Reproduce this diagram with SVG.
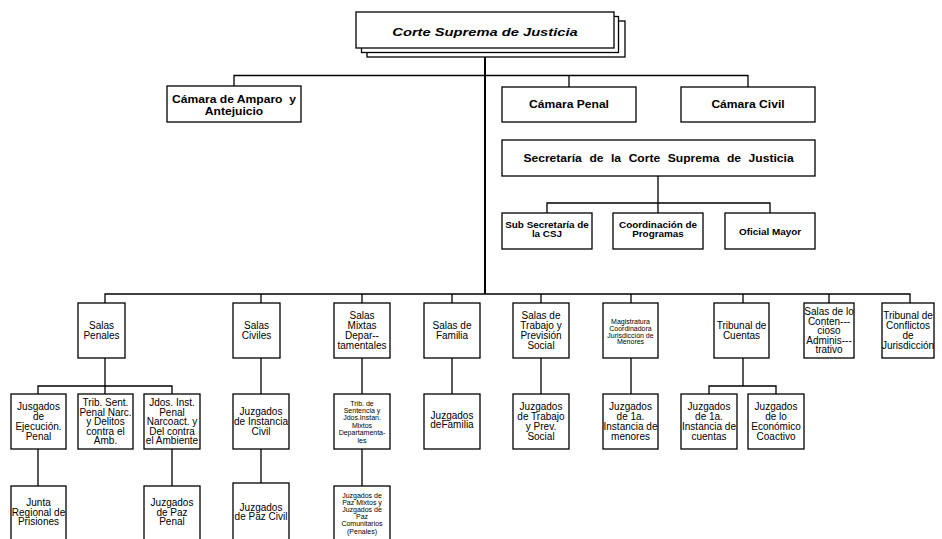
<svg xmlns="http://www.w3.org/2000/svg" width="942" height="539" viewBox="0 0 942 539">
<style>
.box{fill:#fff;stroke:#000;stroke-width:1.3}
text{font-family:"Liberation Sans",Arial,sans-serif;text-anchor:middle;fill:#000}
.t{font-size:10px}
.s{font-size:7px}
.b{font-weight:bold;font-size:11px}
.b3{font-weight:bold;font-size:9px}
.bi{font-weight:bold;font-style:italic;font-size:11.5px}
</style>
<rect width="942" height="539" fill="#fff"/>
<g id="connectors" fill="none" stroke="#000" stroke-width="1.3">
<path d="M485,48 V294" stroke-width="2"/>
<path d="M234,86 V75.5 H748 V87 M569,75.5 V87"/>
<path d="M658,176 V203 M547,213 V203 H770 V213 M658,203 V213"/>
<path d="M105,303 V294 H910 V303 M261,294 V303 M362,294 V303 M452,294 V303 M541,294 V303 M631,294 V303 M743,294 V303 M829,294 V303"/>
<path d="M105,358 V386 M38,394 V386 H172 V394 M105,386 V394"/>
<path d="M261,358 V394 M362,358 V394 M452,358 V394 M541,358 V394 M631,358 V394"/>
<path d="M743,358 V386 M709,394 V386 H776 V394"/>
<path d="M38,449 V486 M172,449 V486 M261,449 V483 M362,449 V486"/>
</g>
<g id="corte-suprema">
<rect class="box" x="367" y="21" width="258" height="36"/>
<rect class="box" x="361.5" y="16.5" width="257" height="36"/>
<rect class="box" x="356" y="12" width="258" height="36"/>
<text class="bi" transform="translate(485,35.5) scale(1.28,1)">Corte Suprema de Justicia</text>
</g>
<g id="camara-amparo">
<rect class="box" x="167" y="86" width="134" height="36"/>
<text class="b" xml:space="preserve" transform="translate(234,103) scale(1.1,1)">Cámara de Amparo  y</text>
<text class="b" transform="translate(234,114.5) scale(1.1,1)">Antejuicio</text>
</g>
<g id="camara-penal">
<rect class="box" x="502" y="87" width="134" height="35"/>
<text class="b" transform="translate(569,108) scale(1.1,1)">Cámara Penal</text>
</g>
<g id="camara-civil">
<rect class="box" x="681" y="87" width="134" height="35"/>
<text class="b" transform="translate(748,108) scale(1.1,1)">Cámara Civil</text>
</g>
<g id="secretaria">
<rect class="box" x="502" y="140" width="313" height="36"/>
<text class="b" style="word-spacing:3.8px" transform="translate(658.5,162) scale(1.1,1)">Secretaría de la Corte Suprema de Justicia</text>
</g>
<g id="sub-secretaria">
<rect class="box" x="502" y="213" width="90" height="36"/>
<text class="b3" transform="translate(547,227.5) scale(1.1,1)">Sub Secretaría de</text>
<text class="b3" transform="translate(547,237) scale(1.1,1)">la CSJ</text>
</g>
<g id="coordinacion">
<rect class="box" x="613" y="213" width="90" height="36"/>
<text class="b3" transform="translate(658,227.5) scale(1.1,1)">Coordinación de</text>
<text class="b3" transform="translate(658,237) scale(1.1,1)">Programas</text>
</g>
<g id="oficial-mayor">
<rect class="box" x="725" y="213" width="90" height="36"/>
<text class="b3" transform="translate(770,235) scale(1.1,1)">Oficial Mayor</text>
</g>
<g id="salas-penales">
<rect class="box" x="78" y="303" width="47" height="55"/>
<text class="t" x="101.5" y="329">Salas</text>
<text class="t" x="101.5" y="339">Penales</text>
</g>
<g id="salas-civiles">
<rect class="box" x="233" y="303" width="47" height="55"/>
<text class="t" x="256.5" y="329">Salas</text>
<text class="t" x="256.5" y="339">Civiles</text>
</g>
<g id="salas-mixtas">
<rect class="box" x="334" y="303" width="56" height="55"/>
<text class="t" x="362" y="319">Salas</text>
<text class="t" x="362" y="329">Mixtas</text>
<text class="t" x="362" y="339">Depar--</text>
<text class="t" x="362" y="349">tamentales</text>
</g>
<g id="salas-familia">
<rect class="box" x="424" y="303" width="56" height="55"/>
<text class="t" x="452" y="329">Salas de</text>
<text class="t" x="452" y="339">Familia</text>
</g>
<g id="salas-trabajo">
<rect class="box" x="513" y="303" width="56" height="55"/>
<text class="t" x="541" y="319">Salas de</text>
<text class="t" x="541" y="329">Trabajo y</text>
<text class="t" x="541" y="339">Previsión</text>
<text class="t" x="541" y="349">Social</text>
</g>
<g id="magistratura">
<rect class="box" x="603" y="303" width="55" height="55"/>
<text class="s" x="630.5" y="324.2">Magistratura</text>
<text class="s" x="630.5" y="330.9">Coordinadora</text>
<text class="s" x="630.5" y="337.6">Jurisdicción de</text>
<text class="s" x="630.5" y="344.3">Menores</text>
</g>
<g id="tribunal-cuentas">
<rect class="box" x="714" y="303" width="55" height="55"/>
<text class="t" x="741.5" y="329">Tribunal de</text>
<text class="t" x="741.5" y="339">Cuentas</text>
</g>
<g id="salas-contencioso">
<rect class="box" x="804" y="303" width="50" height="55"/>
<text class="t" x="829" y="315">Salas de lo</text>
<text class="t" x="829" y="324.5">Conten---</text>
<text class="t" x="829" y="334">cioso</text>
<text class="t" x="829" y="343.5">Adminis---</text>
<text class="t" x="829" y="353">trativo</text>
</g>
<g id="tribunal-conflictos">
<rect class="box" x="882" y="303" width="52" height="55"/>
<text class="t" x="908" y="319">Tribunal de</text>
<text class="t" x="908" y="329">Conflictos</text>
<text class="t" x="908" y="339">de</text>
<text class="t" x="908" y="349">Jurisdicción</text>
</g>
<g id="jusgados-ejecucion">
<rect class="box" x="11" y="394" width="55" height="55"/>
<text class="t" x="38.5" y="410">Jusgados</text>
<text class="t" x="38.5" y="420">de</text>
<text class="t" x="38.5" y="430">Ejecución.</text>
<text class="t" x="38.5" y="440">Penal</text>
</g>
<g id="trib-sent-penal">
<rect class="box" x="78" y="394" width="55" height="55"/>
<text class="t" x="105.5" y="406">Trib. Sent.</text>
<text class="t" x="105.5" y="415.5">Penal Narc.</text>
<text class="t" x="105.5" y="425">y Delitos</text>
<text class="t" x="105.5" y="434.5">contra el</text>
<text class="t" x="105.5" y="444">Amb.</text>
</g>
<g id="jdos-inst-penal">
<rect class="box" x="144" y="394" width="56" height="55"/>
<text class="t" x="172" y="406">Jdos. Inst.</text>
<text class="t" x="172" y="415.5">Penal</text>
<text class="t" x="172" y="425">Narcoact. y</text>
<text class="t" x="172" y="434.5">Del contra</text>
<text class="t" x="172" y="444">el Ambiente</text>
</g>
<g id="juzgados-instancia-civil">
<rect class="box" x="233" y="394" width="56" height="55"/>
<text class="t" x="261" y="415">Juzgados</text>
<text class="t" x="261" y="425">de Instancia</text>
<text class="t" x="261" y="435">Civil</text>
</g>
<g id="trib-sentencia-mixtos">
<rect class="box" x="334" y="394" width="56" height="55"/>
<text class="s" x="362" y="405.5">Trib. de</text>
<text class="s" x="362" y="412.9">Sentencia y</text>
<text class="s" x="362" y="420.3">Jdos.Instan.</text>
<text class="s" x="362" y="427.7">Mixtos</text>
<text class="s" x="362" y="435.1">Departamenta-</text>
<text class="s" x="362" y="442.5">les</text>
</g>
<g id="juzgados-familia">
<rect class="box" x="424" y="394" width="56" height="55"/>
<text class="t" x="452" y="418.5">Juzgados</text>
<text class="t" x="452" y="428">deFamilia</text>
</g>
<g id="juzgados-trabajo">
<rect class="box" x="513" y="394" width="56" height="55"/>
<text class="t" x="541" y="410">Juzgados</text>
<text class="t" x="541" y="420">de Trabajo</text>
<text class="t" x="541" y="430">y Prev.</text>
<text class="t" x="541" y="440">Social</text>
</g>
<g id="juzgados-menores">
<rect class="box" x="603" y="394" width="55" height="55"/>
<text class="t" x="630.5" y="410">Juzgados</text>
<text class="t" x="630.5" y="420">de 1a.</text>
<text class="t" x="630.5" y="430">Instancia de</text>
<text class="t" x="630.5" y="440">menores</text>
</g>
<g id="juzgados-cuentas">
<rect class="box" x="681" y="394" width="56" height="55"/>
<text class="t" x="709" y="410">Juzgados</text>
<text class="t" x="709" y="420">de 1a.</text>
<text class="t" x="709" y="430">Instancia de</text>
<text class="t" x="709" y="440">cuentas</text>
</g>
<g id="juzgados-economico">
<rect class="box" x="748" y="394" width="56" height="55"/>
<text class="t" x="776" y="410">Juzgados</text>
<text class="t" x="776" y="420">de lo</text>
<text class="t" x="776" y="430">Económico</text>
<text class="t" x="776" y="440">Coactivo</text>
</g>
<g id="junta-regional">
<rect class="box" x="11" y="486" width="55" height="62"/>
<text class="t" x="38.5" y="506">Junta</text>
<text class="t" x="38.5" y="515.5">Regional de</text>
<text class="t" x="38.5" y="525">Prisiones</text>
</g>
<g id="juzgados-paz-penal">
<rect class="box" x="144" y="486" width="56" height="62"/>
<text class="t" x="172" y="506">Juzgados</text>
<text class="t" x="172" y="515.5">de Paz</text>
<text class="t" x="172" y="525">Penal</text>
</g>
<g id="juzgados-paz-civil">
<rect class="box" x="233" y="483" width="56" height="65"/>
<text class="t" x="261" y="510.5">Juzgados</text>
<text class="t" x="261" y="520">de Paz Civil</text>
</g>
<g id="juzgados-paz-mixtos">
<rect class="box" x="334" y="486" width="56" height="62"/>
<text class="s" x="362" y="497.5">Juzgados de</text>
<text class="s" x="362" y="504.7">Paz Mixtos y</text>
<text class="s" x="362" y="511.9">Juzgados de</text>
<text class="s" x="362" y="519.1">Paz</text>
<text class="s" x="362" y="526.3">Comunitarios</text>
<text class="s" x="362" y="533.5">(Penales)</text>
</g>
</svg>
